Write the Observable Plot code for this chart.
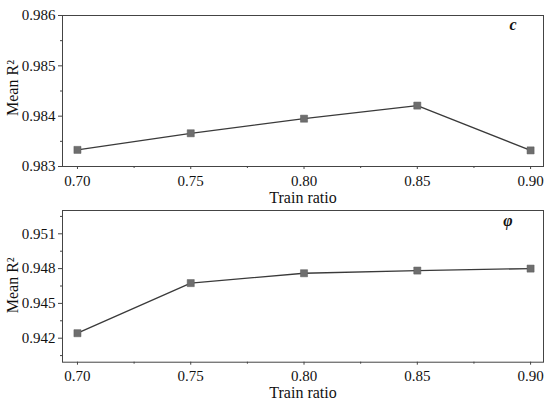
<!DOCTYPE html>
<html>
<head>
<meta charset="utf-8">
<script src="https://cdn.jsdelivr.net/npm/d3@7"></script>
<script src="https://cdn.jsdelivr.net/npm/@observablehq/plot@0.6"></script>
<style>
  html, body { margin: 0; padding: 0; background: #fff; }
  #chart svg { display: block; }
</style>
</head>
<body>
<div id="chart"></div>
<script>
// ---- data ----
const trainRatio = [0.70, 0.75, 0.80, 0.85, 0.90];
const meanR2C   = [0.98333, 0.98366, 0.98395, 0.98421, 0.98332];
const meanR2Phi = [0.94243, 0.94675, 0.94760, 0.94783, 0.94800];

const xTicks = [0.70, 0.75, 0.80, 0.85, 0.90];
const xMinor = [0.725, 0.775, 0.825, 0.875];
const yTicksC = [0.983, 0.984, 0.985, 0.986];
const yMinorC = [0.9835, 0.9845, 0.9855];
const yTicksPhi = [0.942, 0.945, 0.948, 0.951];
const yMinorPhi = [0.9405, 0.9435, 0.9465, 0.9495, 0.9525];

const panelLabels = ["c", "φ"];
const xLabel = "Train ratio";
const yLabel = "Mean R²";

function panel(values, yDomain, yTicks, yMinor, label, opts) {
  const data = trainRatio.map((x, i) => ({x, y: values[i]}));
  return Plot.plot({
    width: 550,
    height: opts.height,
    marginTop: opts.marginTop,
    marginBottom: opts.marginBottom,
    marginLeft: 62,
    marginRight: 7,
    style: {fontFamily: "'Liberation Serif', 'Times New Roman', serif", fontSize: "16px", color: "#222", background: "#fff"},
    x: {domain: [0.6934, 0.9057], label: null},
    y: {domain: yDomain, label: null},
    marks: [
      Plot.frame({stroke: "#444", strokeWidth: 1}),
      Plot.axisX(xTicks, {tickSize: 3, tickPadding: opts.xTickPadding, fontSize: 15, tickFormat: d3.format(".2f"), label: null, stroke: "#444", fill: "#111"}),
      Plot.axisX(xMinor, {tickSize: 2, tickFormat: () => "", label: null, stroke: "#444"}),
      Plot.axisY(yTicks, {tickSize: 4, tickPadding: 3, fontSize: 15, tickFormat: d3.format(".3f"), label: null, stroke: "#444", fill: "#111"}),
      Plot.axisY(yMinor, {tickSize: 2, tickFormat: () => "", label: null, stroke: "#444"}),
      Plot.line(data, {x: "x", y: "y", stroke: "#3a3a3a", strokeWidth: 1.3}),
      Plot.dot(data, {x: "x", y: "y", symbol: "square", r: 4, fill: "#6e6e6e", stroke: "#5a5a5a", strokeWidth: 0.5}),
      Plot.text([label], {text: d => d, frameAnchor: "top-right", textAnchor: "end", lineAnchor: "top", dx: opts.labelDx, dy: opts.labelDy, fontStyle: "italic", fontWeight: "bold", fontSize: 16, fill: "#111"}),
      Plot.text([xLabel], {text: d => d, frameAnchor: "bottom", textAnchor: "middle", lineAnchor: "middle", dy: opts.xLabelDy, fontSize: 16, fill: "#111"}),
      Plot.text([yLabel], {text: d => d, frameAnchor: "left", textAnchor: "middle", lineAnchor: "middle", dx: -50, dy: opts.yLabelDy, rotate: -90, fontSize: 16, fill: "#111"})
    ]
  });
}

const chart = document.getElementById("chart");
chart.append(panel(meanR2C, [0.983, 0.986], yTicksC, yMinorC, panelLabels[0],
  {height: 207, marginTop: 15, marginBottom: 41, xLabelDy: 31.5, xTickPadding: 5.5, labelDx: -27, labelDy: 3.6, yLabelDy: -3}));
chart.append(panel(meanR2Phi, [0.93993, 0.95301], yTicksPhi, yMinorPhi, panelLabels[1],
  {height: 196, marginTop: 3, marginBottom: 41.3, xLabelDy: 31, xTickPadding: 5.5, labelDx: -31, labelDy: 4.6, yLabelDy: -1}));
</script>
</body>
</html>
